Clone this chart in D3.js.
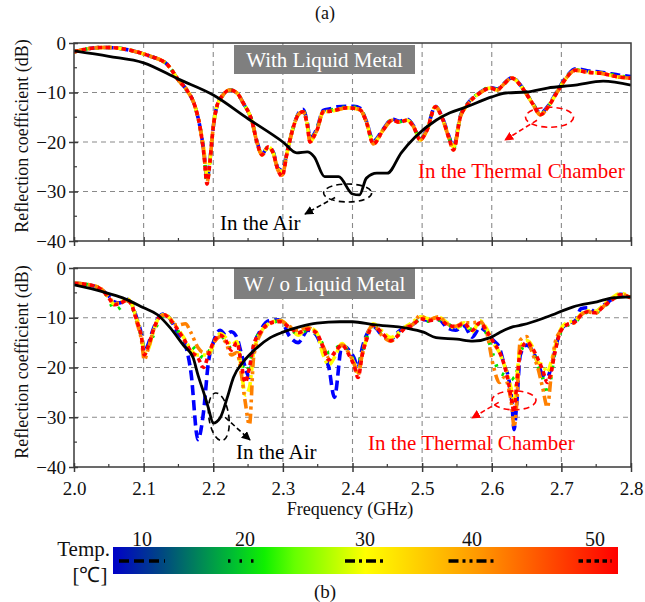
<!DOCTYPE html>
<html><head><meta charset="utf-8">
<script src="https://cdn.jsdelivr.net/npm/d3@7"></script>
<style>body{margin:0;background:#fff}</style>
</head><body>
<svg id="c" width="645" height="602"></svg>
<script>
// ---------------- DATA ----------------
const X_TICKS = [2.0,2.1,2.2,2.3,2.4,2.5,2.6,2.7,2.8];
const Y_TICKS = [0,-10,-20,-30,-40];
const TEMPS = [10,20,30,40,50];

// (a) With liquid metal – in the air
const A_AIR_FREQ = [2.00,2.05,2.10,2.15,2.20,2.25,2.30,2.32,2.335,2.345,2.36,2.38,2.40,2.41,2.42,2.435,2.45,2.47,2.49,2.52,2.54,2.56,2.60,2.62,2.65,2.68,2.72,2.76,2.80];
const A_AIR_DB   = [-1.6,-2.7,-4.0,-7.3,-10.5,-15.3,-20.0,-22.2,-22.0,-23.0,-27.0,-27.0,-30.5,-30.7,-27.3,-26.3,-26.3,-22.2,-19.0,-15.6,-14.1,-13.1,-10.9,-10.1,-9.9,-9.1,-8.5,-7.7,-8.5];

// (a) With liquid metal – thermal chamber
const A_FREQ = [2.000,2.015,2.028,2.045,2.062,2.075,2.085,2.100,2.112,2.124,2.133,2.142,2.150,2.162,2.174,2.181,2.187,2.191,2.195,2.200,2.205,2.214,2.224,2.234,2.243,2.256,2.263,2.270,2.279,2.286,2.293,2.299,2.306,2.315,2.322,2.329,2.335,2.339,2.344,2.349,2.358,2.368,2.378,2.392,2.402,2.411,2.420,2.430,2.444,2.457,2.468,2.478,2.488,2.497,2.507,2.519,2.530,2.538,2.545,2.555,2.565,2.583,2.598,2.608,2.616,2.629,2.644,2.658,2.670,2.681,2.694,2.708,2.720,2.737,2.756,2.784,2.800];
const A_T10 = [-1.8,-1.3,-1.0,-0.9,-1.0,-1.3,-1.6,-2.2,-2.8,-3.4,-4.2,-5.8,-7.5,-9.5,-12.9,-17.0,-22.5,-27.5,-24.0,-17.0,-12.9,-10.5,-9.5,-10.1,-12.1,-16.0,-20.0,-22.4,-21.0,-22.0,-25.3,-25.7,-22.0,-17.0,-14.3,-13.4,-16.0,-19.2,-18.6,-17.2,-13.6,-13.3,-12.9,-12.8,-12.8,-13.2,-15.8,-19.8,-17.4,-15.4,-15.8,-15.4,-16.8,-19.3,-17.4,-12.8,-15.4,-18.6,-21.0,-14.7,-12.3,-10.0,-9.0,-9.3,-8.4,-7.0,-9.0,-12.0,-14.2,-12.7,-9.7,-6.7,-5.2,-5.6,-5.9,-6.5,-6.8];
const A_T20 = [-1.8,-1.3,-1.0,-0.9,-1.0,-1.3,-1.6,-2.2,-2.8,-3.4,-4.2,-5.8,-7.5,-9.5,-12.9,-17.0,-22.8,-28.0,-24.2,-17.0,-12.9,-10.5,-9.5,-10.1,-12.1,-16.0,-20.1,-22.5,-21.0,-22.1,-25.5,-26.3,-22.1,-17.0,-14.4,-13.7,-16.3,-19.6,-18.8,-17.4,-13.8,-13.6,-13.2,-13.0,-13.0,-13.4,-15.9,-20.1,-17.5,-15.5,-15.9,-15.5,-16.9,-19.4,-17.5,-12.9,-15.5,-18.8,-21.3,-14.8,-12.4,-10.0,-9.0,-9.4,-8.5,-7.1,-9.0,-12.0,-14.3,-12.8,-9.8,-6.8,-5.4,-5.8,-6.0,-6.7,-7.0];
const A_T30 = [-1.8,-1.3,-1.0,-0.9,-1.0,-1.3,-1.6,-2.2,-2.8,-3.4,-4.2,-5.8,-7.5,-9.5,-12.9,-17.0,-22.0,-27.0,-24.0,-17.0,-12.9,-10.5,-9.5,-10.1,-12.1,-16.0,-20.2,-22.6,-21.0,-22.2,-25.5,-26.0,-22.2,-17.0,-14.5,-13.9,-16.5,-20.0,-19.0,-17.6,-13.9,-13.8,-13.5,-13.1,-13.2,-13.5,-16.0,-20.2,-17.6,-15.6,-16.0,-15.6,-17.0,-19.6,-17.6,-12.9,-15.6,-19.0,-21.0,-14.9,-12.5,-10.1,-9.1,-9.5,-8.5,-7.1,-9.1,-12.1,-14.5,-12.9,-9.9,-6.9,-5.5,-5.9,-6.1,-6.9,-7.1];
const A_T40 = [-1.8,-1.3,-1.0,-0.9,-1.0,-1.3,-1.6,-2.2,-2.8,-3.4,-4.2,-5.8,-7.5,-9.5,-12.9,-17.0,-23.0,-28.2,-24.3,-17.0,-12.9,-10.5,-9.5,-10.1,-12.1,-16.0,-20.2,-22.6,-21.0,-22.2,-25.7,-26.7,-22.2,-17.0,-14.5,-13.9,-16.5,-20.0,-19.0,-17.6,-13.9,-13.8,-13.5,-13.1,-13.2,-13.5,-16.0,-20.4,-17.6,-15.6,-16.0,-15.6,-17.0,-19.6,-17.6,-12.9,-15.6,-19.0,-21.6,-14.9,-12.5,-10.1,-9.1,-9.5,-8.5,-7.1,-9.1,-12.1,-14.5,-12.9,-9.9,-6.9,-5.5,-5.9,-6.1,-6.9,-7.1];
const A_T50 = [-1.8,-1.3,-1.0,-0.9,-1.0,-1.3,-1.6,-2.2,-2.8,-3.4,-4.2,-5.8,-7.5,-9.5,-12.9,-17.0,-23.0,-28.5,-24.3,-17.0,-12.9,-10.5,-9.5,-10.1,-12.1,-16.0,-20.2,-22.6,-21.0,-22.2,-25.7,-26.9,-22.2,-17.0,-14.5,-13.9,-16.5,-20.0,-19.0,-17.6,-13.9,-13.8,-13.5,-13.1,-13.2,-13.5,-16.0,-20.4,-17.6,-15.6,-16.0,-15.6,-17.0,-19.6,-17.6,-12.9,-15.6,-19.0,-21.6,-14.9,-12.5,-10.1,-9.1,-9.5,-8.5,-7.1,-9.1,-12.1,-14.5,-12.9,-9.9,-6.9,-5.5,-5.9,-6.1,-6.9,-7.1];

// (b) Without liquid metal – in the air
const B_AIR_FREQ = [2.00,2.042,2.07,2.10,2.12,2.138,2.157,2.171,2.178,2.186,2.193,2.20,2.21,2.22,2.229,2.243,2.263,2.282,2.30,2.325,2.349,2.382,2.40,2.43,2.478,2.502,2.52,2.55,2.573,2.598,2.612,2.631,2.645,2.68,2.717,2.751,2.774,2.80];
const B_AIR_DB   = [-3.4,-4.8,-6.0,-8.0,-9.4,-12.0,-15.5,-18.0,-21.5,-24.9,-28.1,-31.2,-30.1,-26.1,-22.0,-18.9,-16.0,-14.0,-12.9,-11.8,-11.1,-10.8,-10.8,-11.4,-12.1,-12.9,-14.0,-14.3,-14.7,-14.0,-12.9,-11.8,-11.4,-9.8,-7.8,-6.8,-6.0,-5.8];

// (b) Without liquid metal – thermal chamber
const B_FREQ = [2.000,2.023,2.040,2.050,2.058,2.066,2.076,2.082,2.090,2.097,2.101,2.106,2.114,2.122,2.130,2.137,2.148,2.160,2.168,2.178,2.186,2.193,2.200,2.210,2.218,2.226,2.234,2.240,2.246,2.252,2.258,2.268,2.282,2.296,2.310,2.322,2.336,2.348,2.358,2.366,2.374,2.385,2.395,2.402,2.408,2.414,2.420,2.430,2.442,2.455,2.466,2.476,2.486,2.497,2.510,2.524,2.536,2.548,2.560,2.572,2.583,2.592,2.602,2.611,2.618,2.624,2.629,2.632,2.636,2.641,2.650,2.658,2.666,2.673,2.680,2.685,2.691,2.698,2.708,2.720,2.728,2.738,2.749,2.760,2.773,2.785,2.800];
const B_T10 = [-3.1,-3.4,-4.4,-5.6,-6.8,-7.0,-6.3,-7.0,-10.0,-13.5,-16.8,-15.5,-12.2,-9.8,-9.2,-10.0,-12.8,-15.5,-21.0,-34.5,-29.0,-19.0,-15.0,-12.5,-13.5,-12.8,-14.0,-17.0,-20.0,-22.0,-16.0,-12.5,-10.5,-10.4,-13.8,-15.0,-12.5,-13.5,-17.0,-20.0,-26.0,-15.5,-16.5,-18.0,-20.0,-16.0,-13.5,-11.8,-13.4,-14.3,-12.8,-11.8,-11.4,-10.3,-10.5,-10.4,-12.0,-12.5,-11.6,-13.9,-12.0,-12.8,-14.5,-16.0,-19.5,-22.0,-27.0,-32.5,-27.0,-17.5,-15.5,-16.5,-19.0,-21.5,-22.0,-20.0,-16.5,-12.8,-11.2,-10.6,-8.2,-8.0,-8.8,-7.6,-6.2,-5.3,-5.9];
const B_T20 = [-3.1,-3.4,-4.4,-6.2,-8.5,-8.0,-6.6,-7.4,-10.5,-14.0,-16.5,-16.0,-13.5,-10.5,-9.6,-10.4,-12.4,-14.8,-15.5,-17.0,-18.0,-17.0,-15.0,-13.6,-14.6,-16.3,-15.2,-18.5,-21.0,-19.5,-15.5,-12.8,-11.2,-10.6,-12.2,-13.2,-12.5,-13.2,-15.5,-17.0,-16.5,-15.3,-17.0,-18.5,-19.0,-17.0,-14.2,-11.6,-13.0,-14.5,-13.3,-12.2,-11.5,-10.4,-10.7,-10.5,-11.2,-12.0,-11.4,-12.4,-11.2,-13.0,-17.5,-21.0,-21.5,-22.0,-22.0,-22.5,-21.0,-17.0,-15.2,-16.4,-19.5,-22.0,-25.5,-22.0,-16.5,-13.2,-11.6,-10.9,-9.6,-8.9,-9.0,-7.9,-6.5,-5.5,-6.0];
const B_T30 = [-3.1,-3.4,-4.4,-6.0,-7.3,-7.0,-6.2,-7.0,-10.2,-13.8,-17.0,-16.5,-12.8,-10.0,-9.3,-10.0,-12.0,-14.5,-16.5,-17.5,-17.5,-17.5,-15.5,-13.2,-14.0,-15.5,-14.8,-20.0,-25.5,-24.0,-17.0,-13.0,-11.0,-10.5,-12.0,-13.5,-12.0,-12.8,-17.5,-19.5,-18.0,-15.2,-17.2,-19.0,-21.0,-17.5,-14.3,-11.2,-12.6,-14.0,-13.0,-11.8,-11.0,-9.8,-10.2,-9.9,-11.0,-12.2,-11.0,-12.8,-10.6,-12.0,-15.0,-17.0,-19.5,-22.0,-25.0,-27.0,-22.0,-16.0,-14.6,-15.7,-19.0,-19.5,-21.0,-19.0,-15.8,-12.6,-11.0,-10.5,-9.3,-8.6,-8.7,-7.5,-6.0,-5.1,-5.9];
const B_T40 = [-3.1,-3.4,-4.3,-5.8,-7.0,-7.1,-6.5,-7.2,-10.8,-14.6,-18.5,-16.5,-12.6,-10.0,-9.4,-10.1,-11.5,-11.2,-13.0,-16.0,-17.0,-17.0,-15.2,-13.8,-15.0,-17.5,-17.0,-21.0,-27.0,-31.5,-18.0,-13.2,-11.2,-10.6,-11.8,-12.6,-12.0,-13.2,-15.8,-18.0,-17.2,-15.5,-17.2,-19.2,-21.5,-17.2,-13.8,-11.5,-13.5,-14.7,-13.4,-11.9,-11.4,-9.6,-10.4,-9.8,-11.2,-11.7,-11.0,-11.0,-10.8,-12.6,-19.5,-23.0,-22.0,-24.0,-28.0,-32.0,-27.0,-14.5,-13.8,-17.0,-20.0,-24.0,-28.0,-22.0,-15.0,-12.8,-11.4,-10.9,-9.5,-8.8,-9.1,-7.8,-6.3,-5.3,-6.0];
const B_T50 = [-3.1,-3.4,-4.4,-6.0,-7.4,-7.2,-6.4,-7.2,-10.5,-14.0,-17.5,-16.0,-12.5,-10.0,-9.4,-10.2,-12.2,-14.8,-16.8,-18.0,-20.0,-17.5,-15.0,-13.5,-14.5,-16.5,-15.0,-19.0,-23.0,-20.0,-15.5,-12.9,-11.0,-10.8,-12.0,-13.0,-12.3,-13.0,-16.0,-18.5,-17.0,-15.5,-17.5,-19.5,-22.0,-17.5,-14.5,-11.5,-13.0,-14.6,-13.5,-12.0,-11.6,-10.2,-10.6,-10.2,-11.4,-11.8,-11.2,-12.5,-11.0,-12.5,-14.8,-16.9,-19.5,-23.0,-27.0,-29.0,-23.0,-17.0,-15.0,-16.0,-18.2,-20.5,-23.0,-21.0,-16.8,-13.0,-11.4,-10.8,-9.5,-8.8,-9.0,-7.8,-6.4,-5.4,-6.0];

// ---------------- STYLE ----------------
const FONT = "'Liberation Serif'";
const COLORS = ["#0000ff","#00e600","#ffff00","#ff8000","#ff0000"];
const DASHES = ["10,5","2.5,9","10,4,3,4","10,4,3,4,3,4","4.5,3.5"];

const svg = d3.select("#c");
const x = d3.scaleLinear().domain([2.0,2.8]).range([74,631]);
const L = 74, R = 631;

const defs = svg.append("defs");
function marker(id,color){
  defs.append("marker").attr("id",id).attr("viewBox","0 0 10 10").attr("refX",9).attr("refY",5)
    .attr("markerWidth",9).attr("markerHeight",9).attr("markerUnits","userSpaceOnUse").attr("orient","auto")
    .append("path").attr("d","M0,0 L10,5 L0,10 Z").attr("fill",color);
}
marker("arrK","#000"); marker("arrR","#ff0000");

function txt(sel){ return sel.style("font-family",FONT); }

const panels = [
  {top:43,bottom:241,freq:A_FREQ,series:[A_T10,A_T20,A_T30,A_T40,A_T50],airF:A_AIR_FREQ,airY:A_AIR_DB,label:"With Liquid Metal",xLabels:false,id:"a"},
  {top:268,bottom:467,freq:B_FREQ,series:[B_T10,B_T20,B_T30,B_T40,B_T50],airF:B_AIR_FREQ,airY:B_AIR_DB,label:"W / o Liquid Metal",xLabels:true,id:"b"}
];

panels.forEach(p=>{
  const y = d3.scaleLinear().domain([-40,0]).range([p.bottom,p.top]);
  p.y = y;
  const g = svg.append("g");
  defs.append("clipPath").attr("id","clip"+p.id).append("rect")
    .attr("x",L).attr("y",p.top).attr("width",R-L).attr("height",p.bottom-p.top);
  g.selectAll(".vg").data(X_TICKS.slice(1,-1)).join("line")
    .attr("x1",d=>x(d)).attr("x2",d=>x(d)).attr("y1",p.top).attr("y2",p.bottom)
    .attr("stroke","#8a8a8a").attr("stroke-width",1.1).attr("stroke-dasharray","5,4");
  g.selectAll(".hg").data(Y_TICKS.slice(1,-1)).join("line")
    .attr("y1",d=>y(d)).attr("y2",d=>y(d)).attr("x1",L).attr("x2",R)
    .attr("stroke","#8a8a8a").attr("stroke-width",1.1).attr("stroke-dasharray","5,4");

  g.append("rect").attr("x",234).attr("y",p.top+(p.id==="a"?2:0)).attr("width",181).attr("height",p.id==="a"?29:31).attr("fill","#7f7f7f");
  txt(g.append("text").attr("x",324.5).attr("y",p.top+(p.id==="a"?24:23)).attr("text-anchor","middle")
    .attr("fill","#fff").attr("font-size",21)).text(p.label);

  const lines = g.append("g").attr("clip-path","url(#clip"+p.id+")");
  const airData = p.airF.map((f,i)=>[f,p.airY[i]]);
  const lineGen = d3.line().x(d=>x(d[0])).y(d=>y(d[1])).curve(d3.curveMonotoneX);
  p.series.forEach((vals,k)=>{
    const data = p.freq.map((f,i)=>[f,vals[i]]);
    lines.append("path").datum(data).attr("d",lineGen).attr("fill","none")
      .attr("stroke",COLORS[k]).attr("stroke-width",3.6).attr("stroke-dasharray",DASHES[k])
      .attr("stroke-linejoin","round");
  });
  lines.append("path").datum(airData).attr("d",lineGen).attr("fill","none")
    .attr("stroke","#000").attr("stroke-width",2.8).attr("stroke-linejoin","round");

  g.append("rect").attr("x",L).attr("y",p.top).attr("width",R-L).attr("height",p.bottom-p.top)
    .attr("fill","none").attr("stroke","#3a3a3a").attr("stroke-width",1.5);

  const ya = d3.axisLeft(y).tickValues(Y_TICKS).tickSize(5).tickFormat(d3.format("d"));
  const yg = g.append("g").attr("transform",`translate(${L},0)`).call(ya);
  yg.attr("font-family",null).attr("font-size",null);
  yg.select(".domain").remove();
  yg.selectAll("line").attr("stroke","#3a3a3a").attr("stroke-width",1.5).attr("x2",-5).attr("x1",4);
  txt(yg.selectAll("text")).attr("font-size",19).attr("fill","#111").attr("x",-8);
  g.selectAll(".ym").data([-5,-15,-25,-35]).join("line")
    .attr("x1",L).attr("x2",L+3).attr("y1",d=>y(d)).attr("y2",d=>y(d)).attr("stroke","#3a3a3a").attr("stroke-width",1.2);

  const xa = d3.axisBottom(x).tickValues(X_TICKS).tickSize(5).tickFormat(d3.format(".1f"));
  const xg = g.append("g").attr("transform",`translate(0,${p.bottom})`).call(xa);
  xg.attr("font-family",null).attr("font-size",null);
  xg.select(".domain").remove();
  xg.selectAll("line").attr("stroke","#3a3a3a").attr("stroke-width",1.5).attr("y1",-4);
  if(p.xLabels){
    txt(xg.selectAll("text")).attr("font-size",19).attr("fill","#111").attr("y",15);
  } else xg.selectAll("text").remove();
  g.selectAll(".xm").data([2.05,2.15,2.25,2.35,2.45,2.55,2.65,2.75]).join("line")
    .attr("x1",d=>x(d)).attr("x2",d=>x(d)).attr("y1",p.bottom).attr("y2",p.bottom-3)
    .attr("stroke","#3a3a3a").attr("stroke-width",1.2);

  const cy = p.id==="a"?136:362;
  txt(svg.append("text").attr("transform",`translate(28,${cy}) rotate(-90)`).attr("text-anchor","middle")
    .attr("font-size",18).attr("fill","#111")).text("Reflection coefficient (dB)");
});

// annotations
const A = panels[0], B = panels[1];
function ellipse(cx,cy,rx,ry,color,rot){
  svg.append("ellipse").attr("cx",cx).attr("cy",cy).attr("rx",rx).attr("ry",ry)
    .attr("transform",rot?`rotate(${rot},${cx},${cy})`:null)
    .attr("fill","none").attr("stroke",color).attr("stroke-width",1.6).attr("stroke-dasharray","6,4");
}
function arrow(x1,y1,x2,y2,color,m){
  svg.append("line").attr("x1",x1).attr("y1",y1).attr("x2",x2).attr("y2",y2)
    .attr("stroke",color).attr("stroke-width",1.6).attr("stroke-dasharray","5,3").attr("marker-end",`url(#${m})`);
}
function label(xp,yp,color,s){
  txt(svg.append("text").attr("x",xp).attr("y",yp).attr("font-size",21).attr("fill",color)).text(s);
}
ellipse(x(2.393),A.y(-30.3),24,9,"#000");
arrow(x(2.375),A.y(-31.2),305,214,"#000","arrK");
label(220,230,"#000","In the Air");
ellipse(x(2.683),A.y(-15),24,10,"#ff0000");
arrow(x(2.665),A.y(-15.6),505,140,"#ff0000","arrR");
label(418,178,"#ff0000","In the Thermal Chamber");
ellipse(x(2.208),B.y(-29.9),10,24,"#000",-8);
arrow(x(2.217),B.y(-30),250,440,"#000","arrK");
label(236,459,"#000","In the Air");
ellipse(x(2.632),B.y(-26.6),22,9.5,"#ff0000");
arrow(x(2.61),B.y(-27),472,418,"#ff0000","arrR");
label(368,450,"#ff0000","In the Thermal Chamber");

txt(svg.append("text").attr("x",350).attr("y",515).attr("text-anchor","middle").attr("font-size",18).attr("fill","#111")).text("Frequency (GHz)");
txt(svg.append("text").attr("x",325).attr("y",19).attr("text-anchor","middle").attr("font-size",18).attr("fill","#111")).text("(a)");
txt(svg.append("text").attr("x",325).attr("y",598).attr("text-anchor","middle").attr("font-size",19).attr("fill","#111")).text("(b)");

// ---------------- LEGEND (colour bar) ----------------
const t = d3.scaleLinear().domain(TEMPS).range([142,245,365,472,595]);
const grad = defs.append("linearGradient").attr("id","cbar").attr("x1","0%").attr("x2","100%");
[[0,"#0000c8"],[0.1,"#004a80"],[0.24,"#00c030"],[0.3,"#10f000"],[0.36,"#66ff00"],[0.5,"#ffff00"],[0.72,"#ff9a00"],[1,"#ff0000"]]
  .forEach(s=>grad.append("stop").attr("offset",s[0]).attr("stop-color",s[1]));
svg.append("rect").attr("x",113).attr("y",547).attr("width",505).attr("height",27).attr("fill","url(#cbar)");
txt(svg.selectAll(".tl").data(TEMPS).join("text").attr("x",d=>t(d)).attr("y",546).attr("text-anchor","middle")
  .attr("font-size",20).attr("fill","#111")).text(d=>d);
txt(svg.append("text").attr("x",110).attr("y",556).attr("text-anchor","end").attr("font-size",21).attr("fill","#111")).text("Temp.");
txt(svg.append("text").attr("x",90).attr("y",582).attr("text-anchor","middle").attr("font-size",21).attr("fill","#111")).text("[℃]");
const sampleLen = [46,34,40,47,33];
TEMPS.forEach((T,k)=>{
  svg.append("line").attr("x1",t(T)-sampleLen[k]/2).attr("x2",t(T)+sampleLen[k]/2).attr("y1",561).attr("y2",561)
    .attr("stroke","#000").attr("stroke-width",3.4).attr("stroke-dasharray",DASHES[k]);
});
</script>
</body></html>
